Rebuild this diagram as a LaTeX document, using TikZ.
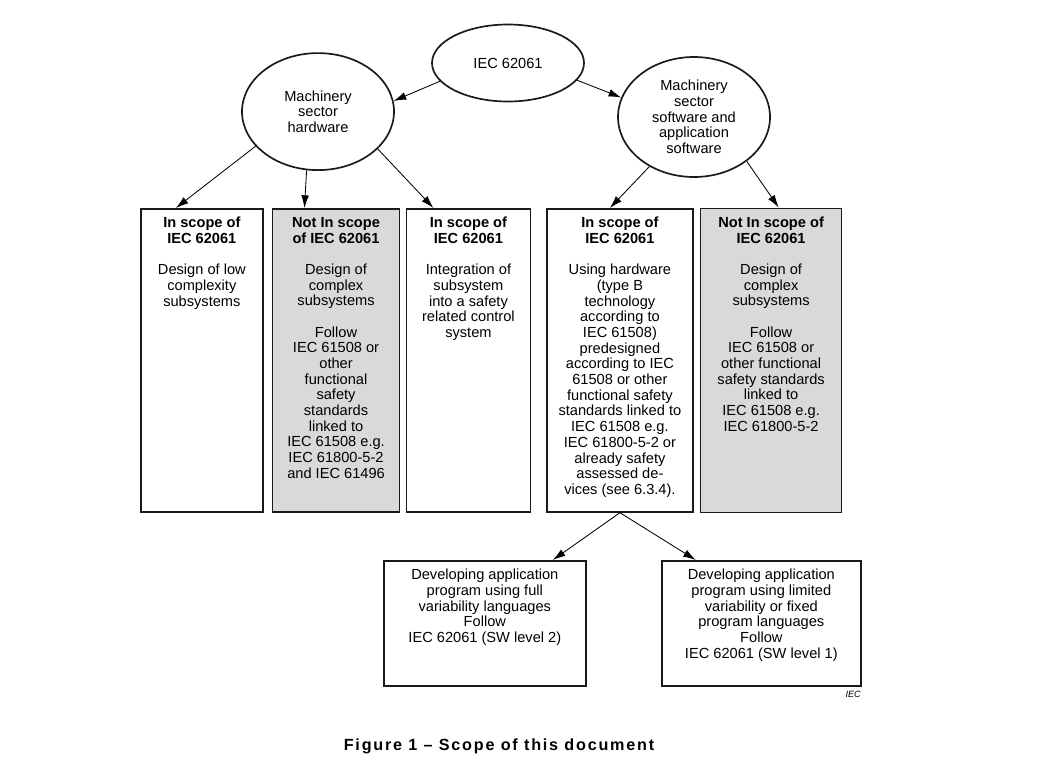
\documentclass[tikz,border=0pt]{standalone}
\usepackage{fontspec}
\setmainfont{Liberation Sans}
\newfontfamily\capfont[LetterSpace=11]{Liberation Sans}
\usepackage{tikz}
\usetikzlibrary{positioning,calc,shapes.geometric,arrows.meta}
\definecolor{Frame}{HTML}{1A1A1A}
\definecolor{NotScope}{HTML}{D9D9D9}

% text of a box, set from its top edge
\newcommand{\boxtext}[3]{\parbox[c][#2][t]{#1}{\centering\vspace*{6pt}#3}}

\begin{document}
\begin{tikzpicture}[
	font=\fontsize{10.4}{11.15}\selectfont,
	sector/.style={ellipse, draw=Frame, line width=1.2pt, inner sep=0pt, align=center},
	scopebox/.style={rectangle, draw=Frame, line width=1.2pt, inner sep=0pt, fill=white},
	notscope/.style={scopebox, fill=NotScope},
	arr/.style={-{Latex[length=9pt,width=5.5pt]}, line width=0.6pt}
	]
			
			\useasboundingbox (0,0) rectangle (26.05,-19.1);
			
			% ---------------------------------------------------------
			% STANDARD AND SECTORS
			% ---------------------------------------------------------
			
			\node[sector, minimum width=3.8cm, minimum height=1.925cm]
			(iec) at (12.7,-1.575)
			{IEC 62061};
			
			\node[sector, minimum width=3.8cm, minimum height=2.925cm]
			(hw) at (7.95,-2.79)
			{Machinery\\sector\\hardware};
			
			\node[sector, minimum width=3.8cm, minimum height=3.0cm]
			(sw) at (17.35,-2.925)
			{Machinery\\sector\\software and\\application\\software};
			
			% ---------------------------------------------------------
			% SCOPE BOXES
			% ---------------------------------------------------------
			
			\node[scopebox, anchor=north west]
			(lowcx) at (3.5,-5.2)
			{\boxtext{3.05cm}{7.575cm}{\textbf{In scope of\\IEC 62061}\\[11.15pt]
					Design of low\\complexity\\subsystems}};
			
			\node[notscope, right=0.2cm of lowcx]
			(complexhw)
			{\boxtext{3.175cm}{7.575cm}{\textbf{Not In scope\\of IEC 62061}\\[11.15pt]
					Design of\\complex\\subsystems\\[11.15pt]
					Follow\\IEC 61508 or\\other\\functional\\safety\\standards\\linked to\\IEC 61508 e.g.\\IEC 61800-5-2\\and IEC 61496}};
			
			\node[scopebox, right=0.13cm of complexhw]
			(integr)
			{\boxtext{3.1cm}{7.575cm}{\textbf{In scope of\\IEC 62061}\\[11.15pt]
					Integration of\\subsystem\\into a safety\\related control\\system}};
			
			\node[scopebox, right=0.37cm of integr]
			(usehw)
			{\boxtext{3.65cm}{7.575cm}{\textbf{In scope of\\IEC 62061}\\[11.15pt]
					Using hardware\\(type B\\technology\\according to\\IEC 61508)\\predesigned\\according to IEC\\61508 or other\\functional safety\\standards linked to\\IEC 61508 e.g.\\IEC 61800-5-2 or\\already safety\\assessed de-\\vices (see 6.3.4).}};
			
			\node[notscope, right=0.15cm of usehw]
			(complexsw)
			{\boxtext{3.525cm}{7.6cm}{\textbf{Not In scope of\\IEC 62061}\\[11.15pt]
					Design of\\complex\\subsystems\\[11.15pt]
					Follow\\IEC 61508 or\\other functional\\safety standards\\linked to\\IEC 61508 e.g.\\IEC 61800-5-2}};
			
			% ---------------------------------------------------------
			% APPLICATION PROGRAMS
			% ---------------------------------------------------------
			
			\node[scopebox, anchor=north west]
			(fullvar) at (9.575,-14.0)
			{\boxtext{5.05cm}{3.125cm}{Developing application\\program using full\\variability languages\\Follow\\IEC 62061 (SW level 2)}};
			
			\node[scopebox, anchor=north west]
			(limvar) at (16.525,-14.0)
			{\boxtext{4.975cm}{3.125cm}{Developing application\\program using limited\\variability or fixed\\program languages\\Follow\\IEC 62061 (SW level 1)}};
			
			\node[anchor=south east, inner sep=0pt, font=\fontsize{6.5}{7}\selectfont\itshape]
			(ieclabel) at (21.525,-17.45)
			{IEC};
			
			\node[anchor=base, inner sep=0pt, font=\capfont\bfseries\fontsize{11.5}{13}\selectfont]
			(caption) at (12.475,-18.75)
			{Figure 1 – Scope of this document};
			
			% ---------------------------------------------------------
			% ARROWS
			% ---------------------------------------------------------
			
			\draw[arr]
			(iec.195) -- (hw.8);
			
			\draw[arr]
			(iec.346) -- (sw.165);
			
			\draw[arr]
			(hw.209) -- ([xshift=-0.65cm]lowcx.north);
			
			\draw[arr]
			(hw.259) -- ([xshift=-0.79cm]complexhw.north);
			
			\draw[arr]
			(hw.328) -- ([xshift=-0.875cm]integr.north);
			
			\draw[arr]
			(sw.228) -- ([xshift=-0.25cm]usehw.north);
			
			\draw[arr]
			(sw.320) -- ([xshift=0.19cm]complexsw.north);
			
			\draw[arr]
			(usehw.south) -- ([xshift=1.7cm]fullvar.north);
			
			\draw[arr]
			(usehw.south) -- ([xshift=-1.64cm]limvar.north);
			
		\end{tikzpicture}
\end{document}
